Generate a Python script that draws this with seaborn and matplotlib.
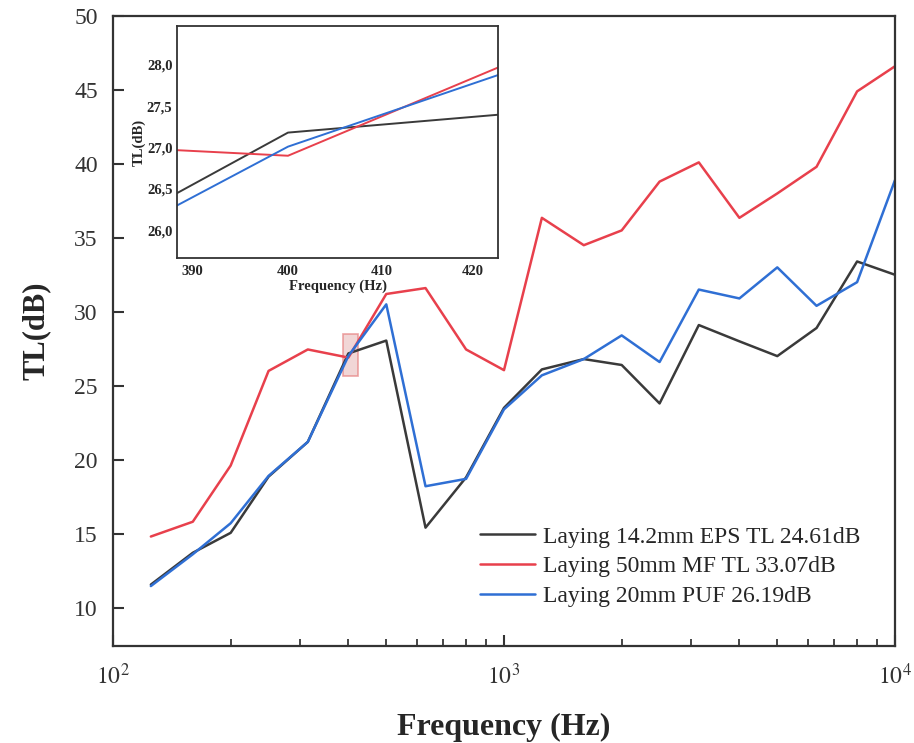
import numpy as np
import pandas as pd
import matplotlib
matplotlib.use("Agg")
import matplotlib.pyplot as plt
import matplotlib.ticker as mticker
from matplotlib.patches import Rectangle
import seaborn as sns

# 1/3 octave band centre frequencies (Hz)
freq = [125, 160, 200, 250, 315, 400, 500, 630, 800, 1000,
        1250, 1600, 2000, 2500, 3150, 4000, 5000, 6300, 8000, 10000]

# transmission loss (dB)
tl_eps = [11.55, 13.7, 15.05, 18.85, 21.2, 27.18, 28.05, 15.4, 18.8, 23.5,
          26.1, 26.8, 26.4, 23.8, 29.1, 28.0, 27.0, 28.9, 33.4, 32.5]
tl_mf = [14.8, 15.8, 19.6, 26.0, 27.45, 26.9, 31.2, 31.6, 27.45, 26.05,
         36.35, 34.5, 35.5, 38.8, 40.1, 36.35, 38.0, 39.8, 44.9, 46.6]
tl_puf = [11.45, 13.6, 15.7, 18.9, 21.2, 27.01, 30.5, 18.2, 18.7, 23.4,
          25.7, 26.8, 28.4, 26.6, 31.5, 30.9, 33.0, 30.4, 32.0, 38.9]

labels = ["Laying 14.2mm EPS TL 24.61dB",
          "Laying 50mm MF TL 33.07dB",
          "Laying 20mm PUF 26.19dB"]
colors = ["#3a3a3a", "#e8404c", "#2f6fd4"]

# zoom window shown in the inset
zoom_x = [388.5, 422.8]
zoom_y = [25.66, 28.47]

df = pd.concat([
    pd.DataFrame({"Frequency": freq, "TL": tl_eps, "Sample": labels[0]}),
    pd.DataFrame({"Frequency": freq, "TL": tl_mf, "Sample": labels[1]}),
    pd.DataFrame({"Frequency": freq, "TL": tl_puf, "Sample": labels[2]}),
], ignore_index=True)

sns.set_theme(style="ticks")
plt.rcParams["font.family"] = ["Liberation Serif", "DejaVu Serif"]
plt.rcParams["mathtext.fontset"] = "stix"

fig = plt.figure(figsize=(9.14, 7.43), dpi=100)
ax = fig.add_axes([0.1236, 0.1306, 0.8556, 0.8479])

sns.lineplot(data=df, x="Frequency", y="TL", hue="Sample", palette=colors,
             linewidth=1.8, sort=False, ax=ax, legend=False)
ax.set_xscale("log")
ax.set_xlim(100, 10000)
ax.set_ylim(7.4, 50)
ax.set_yticks(np.arange(10, 51, 5))
ax.xaxis.set_major_locator(mticker.FixedLocator([100, 1000, 10000]))
ax.xaxis.set_major_formatter(mticker.FixedFormatter([r"$10^2$", r"$10^3$", r"$10^4$"]))
ax.xaxis.set_minor_locator(mticker.LogLocator(base=10, subs=np.arange(2, 10)))
ax.xaxis.set_minor_formatter(mticker.NullFormatter())
ax.tick_params(axis="both", which="major", direction="in", length=8, width=1.5,
               labelsize=17, colors="#333333")
ax.tick_params(axis="x", which="major", pad=13)
ax.tick_params(axis="y", which="major", pad=11)
ax.tick_params(axis="x", which="minor", direction="in", length=5, width=1.2)
for s in ax.spines.values():
    s.set_linewidth(1.6)
    s.set_color("#333333")

ax.set_xlabel("Frequency (Hz)", fontsize=23, fontweight="bold", labelpad=17)
ax.set_ylabel("TL(dB)", fontsize=22, fontweight="bold", labelpad=17)

# marker rectangle for the zoomed region
ax.add_patch(Rectangle((zoom_x[0], zoom_y[0]), zoom_x[1] - zoom_x[0], zoom_y[1] - zoom_y[0],
                       facecolor=(0.85, 0.55, 0.55, 0.35), edgecolor=(0.9, 0.5, 0.5, 0.7),
                       linewidth=1.2, zorder=1))

handles = [plt.Line2D([], [], color=c, linewidth=1.8) for c in colors]
fig.legend(handles, labels, loc="upper left", bbox_to_anchor=(480 / 914, 1 - 526 / 743),
           frameon=False, fontsize=17, handlelength=2.33, handletextpad=0.34,
           labelspacing=0.35, borderpad=0, borderaxespad=0)

# inset
axi = fig.add_axes([0.194, 0.6524, 0.3512, 0.3127])
sns.lineplot(data=df, x="Frequency", y="TL", hue="Sample", palette=colors,
             linewidth=1.4, sort=False, ax=axi, legend=False)
axi.set_xscale("log")
axi.set_xlim(zoom_x)
axi.set_ylim(zoom_y)
axi.xaxis.set_major_locator(mticker.FixedLocator([390, 400, 410, 420]))
axi.xaxis.set_major_formatter(mticker.FixedFormatter(["390", "400", "410", "420"]))
axi.xaxis.set_minor_locator(mticker.NullLocator())
axi.set_yticks([26.0, 26.5, 27.0, 27.5, 28.0])
axi.set_yticklabels(["26,0", "26,5", "27,0", "27,5", "28,0"])
axi.tick_params(axis="both", which="major", direction="in", length=0, labelsize=10.5)
axi.tick_params(axis="x", pad=5)
axi.tick_params(axis="y", pad=3.5)
for t in axi.get_xticklabels() + axi.get_yticklabels():
    t.set_fontweight("bold")
for s in axi.spines.values():
    s.set_linewidth(1.3)
    s.set_color("#333333")
axi.set_xlabel("Frequency (Hz)", fontsize=10.5, fontweight="bold", labelpad=1)
axi.set_ylabel("TL(dB)", fontsize=10.5, fontweight="bold", labelpad=1)

fig.savefig("out.png", dpi=100)
